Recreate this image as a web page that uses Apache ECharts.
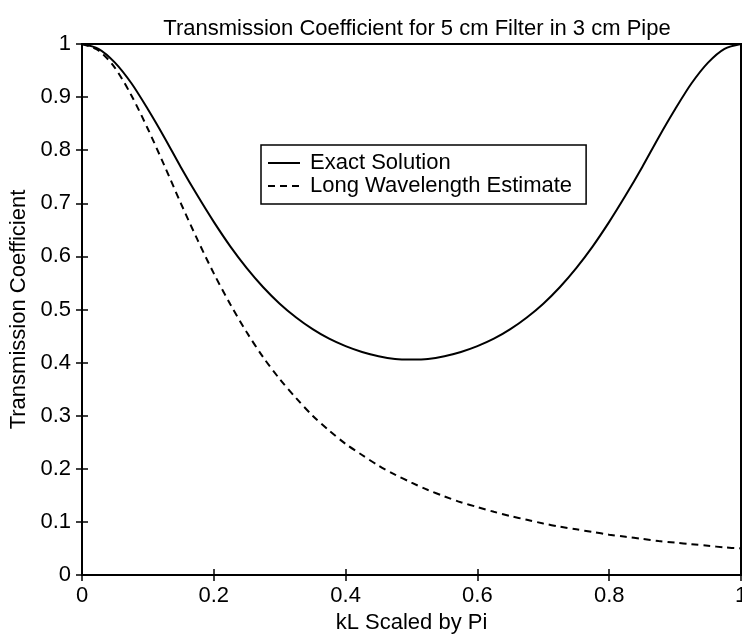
<!DOCTYPE html>
<html>
<head>
<meta charset="utf-8">
<script src="https://cdn.jsdelivr.net/npm/echarts@6/dist/echarts.min.js"></script>
<style>
html,body{margin:0;padding:0;background:#fff;}
#chart{width:742px;height:640px;}
</style>
</head>
<body>
<div id="chart"></div>
<script>
var kL = [0, 0.025, 0.05, 0.075, 0.1, 0.125, 0.15, 0.175, 0.2, 0.225, 0.25, 0.275, 0.3, 0.325, 0.35, 0.375, 0.4, 0.425, 0.45, 0.475,
          0.5, 0.525, 0.55, 0.575, 0.6, 0.625, 0.65, 0.675, 0.7, 0.725, 0.75, 0.775, 0.8, 0.825, 0.85, 0.875, 0.9, 0.925, 0.95, 0.975, 1.0];
var exactSolution = [1.00, 0.991, 0.965, 0.926, 0.877, 0.824, 0.768, 0.715, 0.665, 0.619, 0.578, 0.542, 0.511, 0.485, 0.463, 0.445, 0.431, 0.420, 0.412, 0.407,
                     0.406, 0.407, 0.412, 0.420, 0.431, 0.445, 0.463, 0.485, 0.511, 0.542, 0.578, 0.619, 0.665, 0.715, 0.768, 0.824, 0.877, 0.926, 0.965, 0.991, 1.00];
var longWavelength = [1.00, 0.988, 0.955, 0.903, 0.84, 0.771, 0.70, 0.632, 0.568, 0.51, 0.457, 0.41, 0.369, 0.333, 0.30, 0.272, 0.247, 0.226, 0.206, 0.189,
                      0.174, 0.160, 0.148, 0.137, 0.128, 0.119, 0.111, 0.104, 0.097, 0.091, 0.086, 0.081, 0.076, 0.072, 0.068, 0.064, 0.061, 0.058, 0.055, 0.052, 0.05];
var seriesNames = ['Exact Solution', 'Long Wavelength Estimate'];
var titleText = 'Transmission Coefficient for 5 cm Filter in 3 cm Pipe';
var xLabel = 'kL Scaled by Pi';
var yLabel = 'Transmission Coefficient';

function pairs(ys){ return kL.map(function(x,i){ return [x, ys[i]]; }); }

var FONT = '"Liberation Sans", Arial, Helvetica, sans-serif';
var chart = echarts.init(document.getElementById('chart'), null, {renderer:'canvas'});
var tickStyle = {show:true, inside:true, length:6, lineStyle:{color:'#000', width:1.5}};
var fmt = function(v){ return String(Math.round(v*10)/10); };

chart.setOption({
  backgroundColor:'#fff',
  animation:false,
  title:{
    text:titleText, left:412, textAlign:'center', top:13,
    textStyle:{fontFamily:FONT, fontSize:22, fontWeight:'normal', color:'#000'}
  },
  grid:{left:82, right:1, top:44, bottom:65, show:true, borderColor:'#000', borderWidth:2,
        containLabel:false, outerBoundsMode:'none'},
  legend:{
    orient:'vertical', left:261, top:145,
    data:seriesNames,
    backgroundColor:'#fff', borderColor:'#000', borderWidth:1.5,
    padding:[7,14,7,6], itemGap:1, itemWidth:32, itemHeight:14,
    itemStyle:{color:'transparent', borderWidth:0, opacity:0},
    lineStyle:{color:'#000', width:2},
    textStyle:{fontFamily:FONT, fontSize:22, color:'#000', lineHeight:20, padding:[0,0,0,5]}
  },
  xAxis:[{
    type:'value', min:0, max:1, interval:0.2,
    name:xLabel, nameLocation:'middle', nameGap:36,
    nameTextStyle:{fontFamily:FONT, fontSize:22, color:'#000'},
    axisLine:{show:true, lineStyle:{color:'#000', width:2}},
    axisTick:tickStyle,
    axisLabel:{fontFamily:FONT, fontSize:22, color:'#000', margin:10, formatter:fmt, showMaxLabel:true},
    splitLine:{show:false}
  },{
    type:'value', min:0, max:1, interval:0.2, position:'top',
    axisLine:{show:true, lineStyle:{color:'#000', width:2}},
    axisTick:tickStyle, axisLabel:{show:false}, splitLine:{show:false}
  }],
  yAxis:[{
    type:'value', min:0, max:1, interval:0.1,
    name:yLabel, nameLocation:'middle', nameGap:49,
    nameTextStyle:{fontFamily:FONT, fontSize:22, color:'#000'},
    axisLine:{show:true, lineStyle:{color:'#000', width:2}},
    axisTick:tickStyle,
    axisLabel:{fontFamily:FONT, fontSize:22, color:'#000', margin:11, formatter:fmt},
    splitLine:{show:false}
  },{
    type:'value', min:0, max:1, interval:0.1, position:'right',
    axisLine:{show:true, lineStyle:{color:'#000', width:2}},
    axisTick:tickStyle, axisLabel:{show:false}, splitLine:{show:false}
  }],
  series:[{
    name:seriesNames[0], type:'line', data:pairs(exactSolution), smooth:0.3,
    showSymbol:false, symbol:'none', itemStyle:{color:'#000'},
    lineStyle:{color:'#000', width:2, type:'solid'}, z:3
  },{
    name:seriesNames[1], type:'line', data:pairs(longWavelength), smooth:0.3,
    showSymbol:false, symbol:'none', itemStyle:{color:'#000'},
    lineStyle:{color:'#000', width:2, type:[7,5]}, z:3
  }]
});
</script>
</body>
</html>
